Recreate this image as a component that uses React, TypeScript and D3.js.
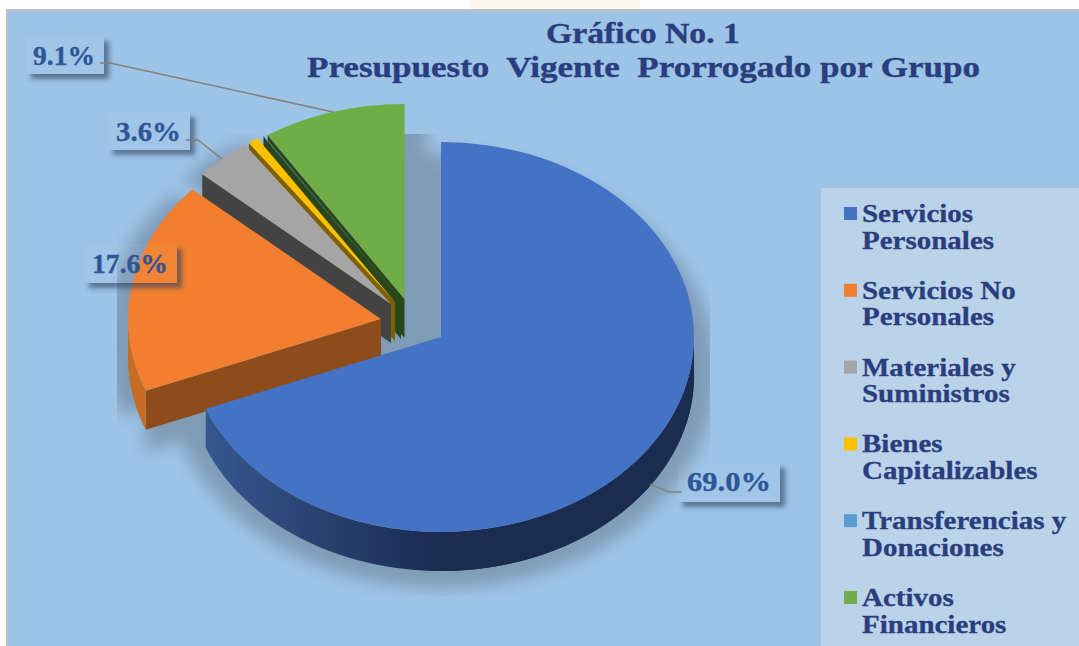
import React from "react";
import * as d3 from "d3";

const categories = ["Servicios Personales", "Servicios No Personales", "Materiales y Suministros", "Bienes Capitalizables", "Transferencias y Donaciones", "Activos Financieros"];
const legendLines = [["Servicios", "Personales"], ["Servicios No", "Personales"], ["Materiales y", "Suministros"], ["Bienes", "Capitalizables"], ["Transferencias y", "Donaciones"], ["Activos", "Financieros"]];
const values = [69.0, 17.6, 3.6, 0.65, 0.05, 9.1];
const valueLabels = ["69.0%", "17.6%", "3.6%", "", "", "9.1%"];
const topColors = ["#4472c4", "#f27f30", "#a5a5a5", "#ffc000", "#5b9bd5", "#70ad47"];
const wallColors = ["#1a2c50", "#8c4c1b", "#434343", "#7f6000", "#2a471b", "#2a471b"];
const titleLines = ["Gráfico No. 1", "Presupuesto  Vigente  Prorrogado por Grupo"];

// layout
const W = 1079, H = 646;
const RX = 253, RY = 195, DEPTH = 39;
const sliceCenters: [number, number][] = [[441, 337], [381, 319], [391, 304], [395, 302], [401, 300], [404.5, 299]];
const labelBoxes = [
  { i: 0, x: 678, y: 463, w: 102, h: 39, tx: 687, tw: 84, by: 491 },
  { i: 1, x: 84, y: 244, w: 93, h: 39, tx: 92, tw: 76, by: 273 },
  { i: 2, x: 108, y: 112, w: 82, h: 38, tx: 116, tw: 65, by: 141 },
  { i: 5, x: 26, y: 36, w: 78, h: 38, tx: 33, tw: 62, by: 65 },
];
const leaders: [number, number][][] = [
  [[650, 484], [669, 492], [682, 492]],
  [[186, 140], [198, 140], [222, 159]],
  [[100, 63], [110, 63], [333, 112]],
];
const FONT = "'Liberation Serif', serif";
const TITLE = "#2a3d7e";
const LABEL = "#2f5597";

const pie = d3.pie<number>().sort(null).value((d) => d)(values);
const arc = d3.arc<any>().innerRadius(0).outerRadius(RX);
const line = d3.line();
const sy = RY / RX;

const pt = (c: [number, number], a: number, dy = 0): [number, number] => [c[0] + RX * Math.sin(a), c[1] - RY * Math.cos(a) + dy];

function radialWall(c: [number, number], a: number) {
  return line([pt(c, a), c, [c[0], c[1] + DEPTH], pt(c, a, DEPTH)]) + "Z";
}
function outerWall(c: [number, number], a0: number, a1: number) {
  const n = 80;
  const as = d3.range(n + 1).map((k) => a0 + ((a1 - a0) * k) / n);
  const pts = [...as.map((a) => pt(c, a)), ...as.slice().reverse().map((a) => pt(c, a, DEPTH))];
  return line(pts) + "Z";
}
const topPath = (i: number) => arc(pie[i]) as string;
const topTransform = (i: number) => `translate(${sliceCenters[i][0]},${sliceCenters[i][1]}) scale(1,${sy})`;

const legendTop = 222, legendStep = 76.8, legendLeading = 26.5;
const LEG_SX = 1.16;

export default function App() {
  const drawOrder = [5, 4, 3, 2, 1, 0];
  const blue = sliceCenters[0];
  return (
    <svg width={W} height={H} viewBox={`0 0 ${W} ${H}`} style={{ position: "absolute", left: 0, top: 0, display: "block" }}>
      <defs>
        <filter id="blur" filterUnits="userSpaceOnUse" x={0} y={0} width={W} height={H}><feGaussianBlur stdDeviation="8" /></filter>
        <filter id="blurS" x="-30%" y="-50%" width="160%" height="200%"><feGaussianBlur stdDeviation="2.5" /></filter>
        <clipPath id="shadowClip"><rect x={117} y={134} width={593} height={462} /></clipPath>
        <linearGradient id="blueWall" gradientUnits="userSpaceOnUse" x1={206} x2={440} y1={0} y2={0}>
          <stop offset="0" stopColor="#35578f" />
          <stop offset="1" stopColor="#1a2c50" />
        </linearGradient>
        {labelBoxes.map((b) => (
          <clipPath id={`lc${b.i}`} key={b.i}>
            <path clipRule="evenodd" d={`M0 0H${W}V${H}H0ZM${b.x} ${b.y}h${b.w}v${b.h}h${-b.w}Z`} />
          </clipPath>
        ))}
      </defs>
      <rect x={0} y={0} width={W} height={H} fill="#ffffff" />
      <rect x={470} y={0} width={170} height={9} fill="#fcf7ec" />
      <rect x={6} y={9} width={W - 6} height={H - 9} fill="#bfbfbf" />
      <rect x={8} y={11} width={W - 8} height={H - 11} fill="#9dc3e6" />

      {/* soft shadow under the pie */}
      <g clipPath="url(#shadowClip)" opacity={0.5}>
        <g filter="url(#blur)" fill="#62768a">
          <ellipse cx={blue[0]} cy={blue[1] + 34} rx={RX + 22} ry={RY + 22} />
          {drawOrder.filter((i) => i !== 0).map((i) => (
            <g key={i}>
              <path d={topPath(i)} transform={`translate(${sliceCenters[i][0] + (i === 5 ? 22 : 0)},${sliceCenters[i][1] + 18}) scale(1.1,${sy * 1.1})`} />
              <path d={radialWall(sliceCenters[i], pie[i].startAngle)} transform="translate(0,22)" />
            </g>
          ))}
        </g>
      </g>

      {/* slices, back to front */}
      {drawOrder.map((i) => {
        const c = sliceCenters[i];
        const p = pie[i];
        const hasRadial = i !== 0;
        const arcFrom = Math.max(p.startAngle, Math.PI / 2);
        const arcTo = Math.min(p.endAngle, (3 * Math.PI) / 2);
        return (
          <g key={categories[i]}>
            {hasRadial && <path d={radialWall(c, p.startAngle)} fill={wallColors[i]} />}
            {arcFrom < arcTo && (
              <path d={outerWall(c, arcFrom, arcTo)} fill={i === 0 ? "url(#blueWall)" : i === 1 ? "#c66c24" : wallColors[i]} />
            )}
            {i === 0 && <path d={outerWall(c, Math.PI / 2, Math.PI)} fill="#1a2c50" />}
            <path d={topPath(i)} transform={topTransform(i)} fill={topColors[i]} />
          </g>
        );
      })}

      {/* title */}
      <g stroke={TITLE} strokeWidth={0.35}>
        <text x={643} y={43} textAnchor="middle" fontFamily={FONT} fontWeight={700} fontSize={29} fill={TITLE} textLength={194} lengthAdjust="spacingAndGlyphs">{titleLines[0]}</text>
        <text x={307} y={77} fontFamily={FONT} fontWeight={700} fontSize={29} fill={TITLE} textLength={673} lengthAdjust="spacingAndGlyphs" style={{ whiteSpace: "pre" }}>{titleLines[1]}</text>
      </g>

      {/* legend */}
      <rect x={821} y={188} width={W - 821} height={H - 188} fill="#bbd3e9" />
      {legendLines.map((ls, i) => {
        const y = legendTop + i * legendStep;
        return (
          <g key={i}>
            <rect x={844} y={y - 15} width={13} height={13} fill={topColors[i]} />
            {ls.map((t, j) => (
              <text key={j} transform={`translate(862,${y + j * legendLeading}) scale(${LEG_SX},1)`} fontFamily={FONT} fontWeight={700} fontSize={25} fill={TITLE} stroke={TITLE} strokeWidth={0.3}>{t}</text>
            ))}
          </g>
        );
      })}

      {/* data labels */}
      {labelBoxes.map((b) => (
        <g key={b.i}>
          <g clipPath={`url(#lc${b.i})`}>
            <rect x={b.x + 5} y={b.y + 5} width={b.w} height={b.h} fill="#2b3f5c" opacity={0.6} filter="url(#blurS)" />
          </g>
          <rect x={b.x} y={b.y} width={b.w} height={b.h} fill="#ffffff" opacity={0.04} />
        </g>
      ))}
      {leaders.map((l, k) => (
        <path key={k} d={line(l) as string} fill="none" stroke="#857f78" strokeWidth={1.5} />
      ))}
      {labelBoxes.map((b) => (
        <text key={b.i} x={b.tx} y={b.by} fontFamily={FONT} fontWeight={700} fontSize={28} fill={LABEL} stroke={LABEL} strokeWidth={0.35} textLength={b.tw} lengthAdjust="spacingAndGlyphs">{valueLabels[b.i]}</text>
      ))}
    </svg>
  );
}
